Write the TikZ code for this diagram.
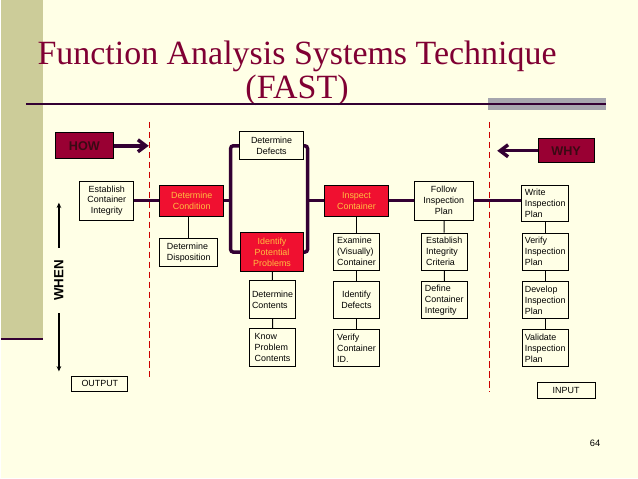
\documentclass[tikz,border=0pt]{standalone}
\usepackage{fontspec}
\setmainfont{Liberation Serif}
\setsansfont{Liberation Sans}
\usepackage{xcolor}
\definecolor{cPage}{HTML}{FFFFE6}
\definecolor{cStrip}{HTML}{CCCC99}
\definecolor{cTitle}{HTML}{800033}
\definecolor{cLink}{HTML}{330033}
\definecolor{cTag}{HTML}{990033}
\definecolor{cTagText}{HTML}{3A0A14}
\definecolor{cKey}{HTML}{F01030}
\definecolor{cKeyText}{HTML}{FFC040}
\definecolor{cSplit}{HTML}{CC0000}
\definecolor{cBar}{HTML}{A6A6AE}
\usepackage{tikz}
\usetikzlibrary{positioning,arrows.meta}
\tikzset{
  node-box/.style={draw=black,line width=0.6pt,inner sep=1.2pt,align=center,
    font=\sffamily\fontsize{6.7}{8.2}\selectfont},
  node-box-l/.style={node-box,align=left},
  node-col/.style={node-box-l,minimum width=34.5pt,minimum height=28pt},
  node-key/.style={node-box,fill=cKey,text=cKeyText,minimum width=48pt},
  node-tag/.style={draw=black,line width=0.6pt,fill=cTag,text=cTagText,
    font=\sffamily\bfseries\fontsize{9.5}{11}\selectfont},
  title-text/.style={font=\fontsize{25.5}{26}\selectfont,text=cTitle,anchor=base},
  link-main/.style={line width=2.6pt,draw=cLink},
  link-thin/.style={line width=0.75pt,draw=black},
  arrow-tag/.style={-{Straight Barb[length=6pt,width=9pt]},line width=2.6pt,draw=cLink},
  arrow-when/.style={-{Stealth[length=4pt,width=3.5pt]},line width=0.9pt,draw=black},
  split-line/.style={dash pattern=on 5pt off 2.5pt,line width=0.6pt,draw=cSplit},
}

\begin{document}
\begin{tikzpicture}[x=0.75pt,y=-0.75pt]
  % page, side strip, title
  \fill[cPage] (0,0) rectangle (638,479);
  \fill[cStrip] (0,0) rectangle (42,339);
  \draw[cLink,line width=1.5pt] (0,339.5) -- (42,339.5);
  \node[title-text] (title-a) at (296.5,65) {Function Analysis Systems Technique};
  \node[title-text] (title-b) at (296.5,99) {(FAST)};
  \fill[cBar] (488,98) rectangle (606,110);
  \draw[cLink,line width=1.2pt] (25,104) -- (606,104);

  % how / why
  \node[node-tag,minimum width=44.25pt,minimum height=19.5pt] (how) at (83.5,146) {HOW};
  \node[node-tag,minimum width=42pt,minimum height=18pt] (why) at (566,151) {WHY};
  \coordinate (how-tip) at (148,146);
  \coordinate (why-tip) at (497,151);
  \draw[arrow-tag] (how) -- (how-tip);
  \draw[arrow-tag] (why) -- (why-tip);

  % scope lines
  \draw[split-line] (149,122) -- (149,378);
  \draw[split-line] (489,122) -- (489,393);

  % when
  \node[font=\sffamily\bfseries\fontsize{10}{12}\selectfont,rotate=90,inner xsep=9pt] (when) at (58,281) {WHEN};
  \coordinate (when-top) at (58,203);
  \coordinate (when-bot) at (58,372);
  \draw[arrow-when] (when.east) -- (when-top);
  \draw[arrow-when] (when.west) -- (when-bot);

  % critical path
  \node[node-box,minimum width=40.5pt,minimum height=29.25pt] (est-integ) at (106,201) {Establish\\Container\\Integrity};
  \node[node-key,minimum height=23.25pt] (det-cond) at (191,201) {Determine\\Condition};
  \node[node-box,minimum width=48pt,minimum height=21pt] (det-def) at (271,146) {Determine\\Defects};
  \node[node-key,minimum width=47.25pt,minimum height=29.25pt] (id-pot) at (271.5,252.5) {Identify\\Potential\\Problems};
  \node[node-key,minimum height=23.25pt] (insp-cont) at (356,201) {Inspect\\Container};
  \node[node-box,minimum width=44.25pt,minimum height=29.25pt] (follow) at (443.5,201) {Follow\\Inspection\\Plan};
  \node[node-col,minimum width=35.25pt,minimum height=27pt] (write) at (545,204) {Write\\Inspection\\Plan};

  % supporting functions
  \node[node-box-l,minimum width=43.5pt,minimum height=21pt] (det-disp) at (188,253) {Determine\\Disposition};
  \node[node-col] (det-cont) at (272,300) {Determine\\Contents};
  \node[node-col] (know-prob) at (272,348) {Know\\Problem\\Contents};
  \node[node-col] (exam) at (356,252) {Examine\\(Visually)\\Container};
  \node[node-col,align=center] (id-def) at (356,300.5) {Identify\\Defects};
  \node[node-col] (ver-id) at (356,348.5) {Verify\\Container\\ID.};
  \node[node-col] (est-crit) at (444,252) {Establish\\Integrity\\Criteria};
  \node[node-col] (def-integ) at (444,300.5) {Define\\Container\\Integrity};
  \foreach \name/\y/\txt in {verify/252/Verify, develop/300.5/Develop, validate/348.5/Validate}
    \node[node-col] (\name) at (545,\y) {\txt\\Inspection\\Plan};

  \node[node-box,minimum width=42pt,minimum height=11.25pt,inner sep=0.5pt] (output) at (99,384.5) {OUTPUT};
  \node[node-box,minimum width=43.5pt,minimum height=12pt,inner sep=0.5pt] (input) at (566,391) {INPUT};
  \node[font=\sffamily\fontsize{7}{8}\selectfont] (page-no) at (595,444) {64};

  % links
  \coordinate (brk-l) at (230,201);
  \coordinate (brk-r) at (307,201);
  \draw[link-main] (est-integ) -- (det-cond);
  \draw[link-main] (det-cond) -- (brk-l);
  \draw[link-main,rounded corners=2pt] (det-def.west) -| (brk-l) |- (id-pot.west);
  \draw[link-main,rounded corners=2pt] (det-def.east) -| (brk-r) |- (id-pot.east);
  \draw[link-main] (brk-r) -- (insp-cont);
  \draw[link-main] (insp-cont) -- (follow);
  \draw[link-main] (follow) -- (follow -| write.west);

  \draw[link-thin] (det-disp.north) -- (det-disp.north |- det-cond.south);
  \draw[link-thin] (id-pot) -- (det-cont) -- (know-prob);
  \draw[link-thin] (insp-cont) -- (exam) -- (id-def) -- (ver-id);
  \draw[link-thin] (follow) -- (est-crit) -- (def-integ);
  \draw[link-thin] (write) -- (verify) -- (develop) -- (validate);
\end{tikzpicture}
\end{document}
